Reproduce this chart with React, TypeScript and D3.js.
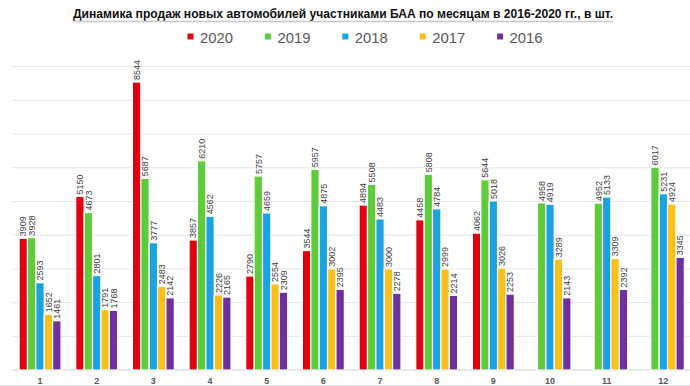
import React from "react";
import * as d3 from "d3";

const months = ["1", "2", "3", "4", "5", "6", "7", "8", "9", "10", "11", "12"];
const seriesNames = ["2020", "2019", "2018", "2017", "2016"];
const v2020: (number | null)[] = [3909, 5150, 8544, 3857, 2790, 3544, 4894, 4458, 4062, null, null, null];
const v2019: (number | null)[] = [3928, 4673, 5687, 6210, 5757, 5957, 5508, 5808, 5644, 4958, 4952, 6017];
const v2018: (number | null)[] = [2593, 2801, 3777, 4562, 4659, 4875, 4483, 4784, 5018, 4919, 5133, 5231];
const v2017: (number | null)[] = [1652, 1791, 2483, 2226, 2554, 3002, 3000, 2999, 3026, 3289, 3309, 4924];
const v2016: (number | null)[] = [1461, 1768, 2142, 2165, 2309, 2395, 2278, 2214, 2253, 2143, 2392, 3345];
const yTicks = [0, 1000, 2000, 3000, 4000, 5000, 6000, 7000, 8000, 9000];
const colors = ["#e1000f", "#5ecb3a", "#1ba3e1", "#f9c01c", "#6f2f9f"];
const title = "Динамика продаж новых автомобилей участниками БАА по месяцам в 2016-2020 гг., в шт.";

const seriesValues = [v2020, v2019, v2018, v2017, v2016];

export default function App() {
  const W = 690, H = 386;
  const x = d3.scaleBand<string>().domain(months).range([11.7, 691.7]).paddingInner(0.26).paddingOuter(0.13);
  const xs = d3.scaleBand<string>().domain(seriesNames).range([0, x.bandwidth()]);
  const y = d3.scaleLinear().domain([0, 9000]).range([370, 66.7]);
  const legendX = d3.scaleBand<string>().domain(seriesNames).range([187, 574]);

  return (
    <div style={{ position: "absolute", left: 0, top: 0 }}>
      <svg width={W} height={H} style={{ display: "block", background: "#fff" }} fontFamily="'Liberation Sans', Arial, sans-serif">
        <text x={343} y={17.5} textAnchor="middle" fontSize={13} fontWeight="bold" fill="#111" textLength={540} lengthAdjust="spacingAndGlyphs">{title}</text>
        <line x1={73} x2={613} y1={21.5} y2={21.5} stroke="#c8c8c8" strokeWidth={1.5} />
        {seriesNames.map((s, i) => (
          <g key={s} transform={`translate(${legendX(s)},0)`}>
            <rect x={0.5} y={33.5} width={6} height={6} fill={colors[i]} />
            <text x={13} y={42.5} fontSize={15} fill="#595959" textLength={33} lengthAdjust="spacingAndGlyphs">{s}</text>
          </g>
        ))}
        {yTicks.slice(1).map((t) => (
          <line key={t} x1={11.7} x2={W} y1={y(t)} y2={y(t)} stroke="#e6e6e6" strokeWidth={1} />
        ))}
        <line x1={11.7} x2={W} y1={y(0)} y2={y(0)} stroke="#d0d0d0" strokeWidth={1} />
        {months.map((m, mi) => (
          <g key={m} transform={`translate(${x(m)},0)`}>
            {seriesNames.map((s, si) => {
              const v = seriesValues[si][mi];
              if (v == null) return null;
              const bx = xs(s)!;
              const bw = xs.bandwidth();
              const cx = bx + bw / 2;
              return (
                <g key={s}>
                  <rect x={bx} y={y(v)} width={bw} height={y(0) - y(v)} fill={colors[si]} stroke="#fff" strokeWidth={1.2} />
                  <text transform={`translate(${cx + 3.2},${y(v) - 2}) rotate(-90)`} fontSize={9} fill="#404040">{v}</text>
                </g>
              );
            })}
            <text x={x.bandwidth() / 2} y={384} textAnchor="middle" fontSize={9} fontWeight="bold" fill="#595959">{m}</text>
          </g>
        ))}
        <line x1={0} x2={W} y1={385.5} y2={385.5} stroke="#d8d8d8" strokeWidth={1} />
      </svg>
    </div>
  );
}
